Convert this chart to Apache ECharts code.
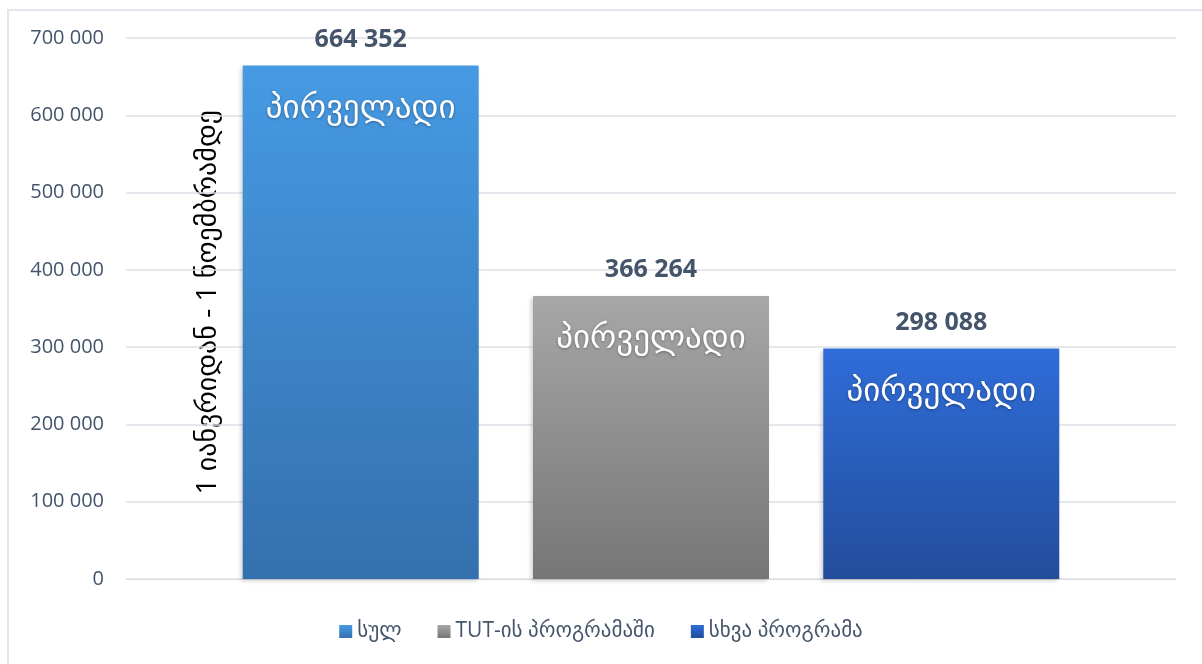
<!DOCTYPE html>
<html>
<head>
<meta charset="utf-8">
<script src="https://cdn.jsdelivr.net/npm/echarts@6/dist/echarts.min.js"></script>
<style>
  html, body { margin: 0; padding: 0; background: #fff; }
  #frame { position: absolute; left: 7px; top: 9px; width: 1200px; height: 660px; border-left: 2px solid #e2e6ec; border-top: 2px solid #e2e6ec; }
  #chart { width: 1202px; height: 664px; position: relative; }
</style>
</head>
<body>
<div id="frame"></div>
<div id="chart"></div>
<script>
// Data
const categories = ['1 იანვრიდან - 1 ნოემბრამდე'];
const seriesNames = ['სულ', 'TUT-ის პროგრამაში', 'სხვა პროგრამა'];
const seriesValues = [664352, 366264, 298088];
const innerLabel = 'პირველადი';
const yTicks = { min: 0, max: 700000, interval: 100000 };

// gradient stops per series (top -> bottom)
const GRADIENTS = [
    ['#469ae3', '#3470ae'],
    ['#a7a7a7', '#767676'],
    ['#2f6dd9', '#234d9b'],
];
const TEXT = '#44546a';
const FONT = '"Open Sans", "DejaVu Sans", sans-serif';

const fmt = (v) => String(v).replace(/\B(?=(\d{3})+(?!\d))/g, ' ');

function grad(c) {
    return new echarts.graphic.LinearGradient(0, 0, 0, 1, [
        { offset: 0, color: c[0] }, { offset: 1, color: c[1] },
    ]);
}

const chart = echarts.init(document.getElementById('chart'), null, { renderer: 'canvas' });

const series = seriesNames.map((name, i) => ({
    name,
    type: 'bar',
    data: [seriesValues[i]],
    barWidth: 236,
    barGap: '23%',
    itemStyle: {
        color: grad(GRADIENTS[i]),
        shadowColor: 'rgba(0,0,0,0.18)',
        shadowBlur: 4,
        shadowOffsetX: -2,
        shadowOffsetY: 2,
    },
    label: {
        show: true,
        position: 'insideTop',
        distance: 0,
        offset: [0, -52],
        formatter: (p) => '{v|' + fmt(p.value) + '}\n{n|' + innerLabel + '}',
        rich: {
            v: { fontSize: 25, fontWeight: 'bold', color: TEXT, lineHeight: 52, fontFamily: FONT },
            n: { fontSize: 33, color: '#ffffff', lineHeight: 86, fontFamily: FONT,
                 textShadowColor: 'rgba(0,0,0,0.35)', textShadowBlur: 3, textShadowOffsetY: 1 },
        },
    },
}));

chart.setOption({
    animation: false,
    backgroundColor: 'transparent',
    textStyle: { fontFamily: FONT },
    grid: { left: 126, right: 26, top: 38, bottom: 85, containLabel: false },
    legend: {
        bottom: 17,
        left: 'center',
        itemWidth: 13,
        itemHeight: 13,
        itemGap: 36,
        icon: 'rect',
        textStyle: { fontSize: 21, color: TEXT, fontFamily: FONT },
        data: seriesNames,
    },
    xAxis: {
        type: 'category',
        data: categories,
        axisLine: { show: true, lineStyle: { color: '#d9dde3', width: 1 } },
        axisTick: { show: false },
        axisLabel: { show: false },
    },
    yAxis: {
        type: 'value',
        min: yTicks.min,
        max: yTicks.max,
        interval: yTicks.interval,
        axisLine: { show: false },
        axisTick: { show: false },
        axisLabel: { color: TEXT, fontSize: 20, margin: 22, formatter: (v) => fmt(v) },
        splitLine: { lineStyle: { color: '#dde1e6', width: 1.5 } },
    },
    graphic: [{
        type: 'text',
        left: 194,
        top: 110,
        rotation: Math.PI / 2,
        style: {
            text: categories[0],
            fontSize: 28,
            fill: '#000000',
            fontFamily: FONT,
        },
    }],
    series,
});
</script>
</body>
</html>
